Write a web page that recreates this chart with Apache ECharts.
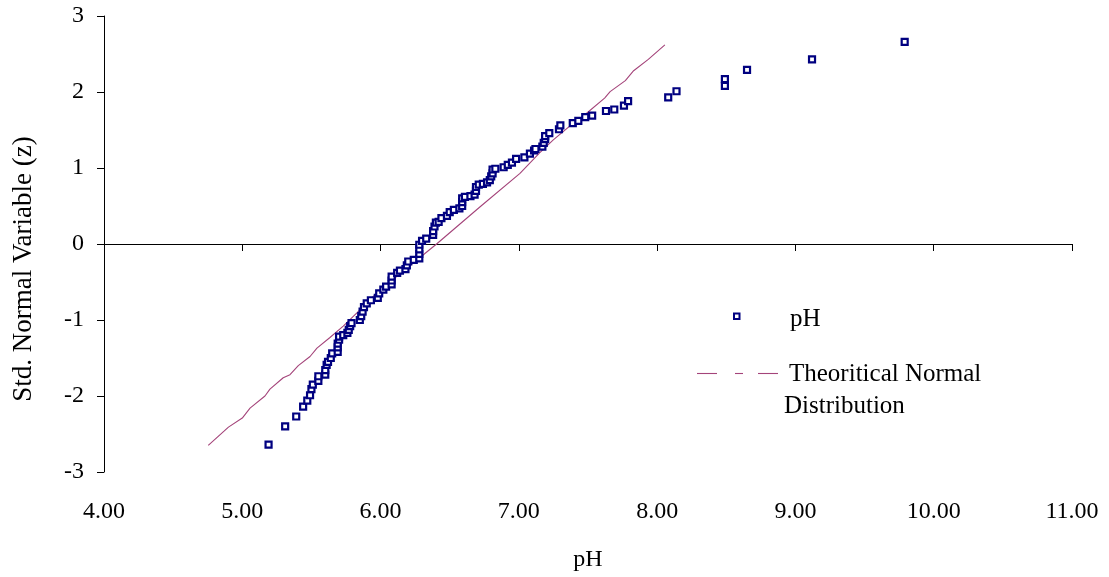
<!DOCTYPE html>
<html>
<head>
<meta charset="utf-8">
<title>pH normal probability plot</title>
<script src="https://cdn.jsdelivr.net/npm/echarts@6/dist/echarts.min.js"></script>
<style>
  html, body { margin: 0; padding: 0; background: #ffffff; }
  #chart { width: 1109px; height: 577px; }
</style>
</head>
<body>
<div id="chart"></div>
<script>
// Observed pH samples (sorted) and their standard normal scores
const phValues = [
  5.19, 5.31, 5.39, 5.44, 5.47, 5.49, 5.50, 5.51, 5.55, 5.55,
  5.60, 5.60, 5.61, 5.62, 5.64, 5.65, 5.69, 5.69, 5.69, 5.70,
  5.70, 5.73, 5.76, 5.77, 5.78, 5.79, 5.85, 5.86, 5.87, 5.88,
  5.90, 5.93, 5.98, 5.99, 6.02, 6.04, 6.08, 6.08, 6.08, 6.12,
  6.14, 6.18, 6.19, 6.20, 6.24, 6.28, 6.28, 6.28, 6.28, 6.30,
  6.33, 6.38, 6.38, 6.39, 6.40, 6.42, 6.44, 6.48, 6.50, 6.53,
  6.57, 6.59, 6.59, 6.59, 6.61, 6.65, 6.68, 6.69, 6.69, 6.71,
  6.74, 6.77, 6.79, 6.80, 6.81, 6.81, 6.83, 6.89, 6.92, 6.95,
  6.98, 7.04, 7.08, 7.11, 7.12, 7.17, 7.18, 7.19, 7.19, 7.22,
  7.29, 7.30, 7.39, 7.43, 7.48, 7.53, 7.63, 7.69, 7.76, 7.79,
  8.08, 8.14, 8.49, 8.49, 8.65, 9.12, 9.79
];
const zScores = [
  -2.64, -2.40, -2.27, -2.14, -2.06, -1.99, -1.91, -1.85, -1.80, -1.74,
  -1.72, -1.66, -1.59, -1.55, -1.50, -1.44, -1.42, -1.36, -1.31, -1.26,
  -1.22, -1.20, -1.17, -1.13, -1.08, -1.04, -1.00, -0.95, -0.89, -0.83,
  -0.78, -0.74, -0.71, -0.65, -0.60, -0.56, -0.53, -0.48, -0.43, -0.38,
  -0.35, -0.33, -0.28, -0.23, -0.21, -0.19, -0.13, -0.07, -0.01, 0.04,
  0.07, 0.12, 0.17, 0.23, 0.28, 0.29, 0.34, 0.37, 0.42, 0.45,
  0.47, 0.50, 0.55, 0.60, 0.62, 0.63, 0.65, 0.70, 0.75, 0.78,
  0.79, 0.81, 0.84, 0.89, 0.93, 0.98, 0.99, 1.01, 1.04, 1.07,
  1.12, 1.14, 1.19, 1.23, 1.25, 1.28, 1.33, 1.38, 1.42, 1.46,
  1.51, 1.56, 1.59, 1.62, 1.67, 1.69, 1.75, 1.77, 1.82, 1.88,
  1.93, 2.01, 2.08, 2.17, 2.29, 2.43, 2.66
];

// Theoretical normal distribution curve
const theoryPh = [
  4.754, 4.87, 4.90, 5.00, 5.056, 5.164, 5.20, 5.296, 5.345, 5.405,
  5.49, 5.54, 5.634, 5.73, 5.827, 5.947, 6.116, 6.236, 6.405, 6.72,
  7.008, 7.15, 7.249, 7.37, 7.49, 7.62, 7.66, 7.77, 7.83, 7.936, 8.056
];
const theoryZ = [
  -2.65, -2.46, -2.41, -2.29, -2.16, -2.00, -1.91, -1.76, -1.72, -1.60,
  -1.48, -1.37, -1.23, -1.08, -0.91, -0.69, -0.43, -0.25, 0.00, 0.49,
  0.93, 1.20, 1.37, 1.555, 1.72, 1.92, 2.005, 2.15, 2.28, 2.43, 2.62
];

const xTicks = { min: 4, max: 11, step: 1 };
const yTicks = { min: -3, max: 3, step: 1 };

const FONT = 'Liberation Serif';
const NAVY = '#000080';
const PLUM = '#A4447A';

const scatterData = phValues.map((v, i) => [v, zScores[i]]);
const lineData = theoryPh.map((v, i) => [v, theoryZ[i]]);

const chart = echarts.init(document.getElementById('chart'), null, { renderer: 'canvas' });

chart.setOption({
  animation: false,
  backgroundColor: '#ffffff',
  grid: { left: 104, right: 37, top: 16, bottom: 104.5, containLabel: false },
  xAxis: [
    {
      // tick labels and title along the bottom edge
      type: 'value',
      min: xTicks.min, max: xTicks.max, interval: xTicks.step,
      position: 'bottom',
      axisLine: { show: false, onZero: false },
      axisTick: { show: false },
      splitLine: { show: false },
      axisLabel: {
        margin: 28,
        fontFamily: FONT, fontSize: 24, color: '#000',
        formatter: v => v.toFixed(2)
      },
      name: 'pH',
      nameLocation: 'middle',
      nameGap: 76,
      nameTextStyle: { fontFamily: FONT, fontSize: 24, color: '#000' }
    },
    {
      // axis line crossing at z = 0, with its ticks
      type: 'value',
      min: xTicks.min, max: xTicks.max, interval: xTicks.step,
      position: 'bottom',
      axisLine: { show: true, onZero: true, lineStyle: { color: '#000', width: 1 } },
      axisTick: { show: true, inside: false, length: 7, lineStyle: { color: '#000' } },
      axisLabel: { show: false },
      splitLine: { show: false }
    }
  ],
  yAxis: {
    type: 'value',
    min: yTicks.min, max: yTicks.max, interval: yTicks.step,
    axisLine: { show: true, onZero: false, lineStyle: { color: '#000', width: 1 } },
    axisTick: { show: true, inside: false, length: 7, lineStyle: { color: '#000' } },
    splitLine: { show: false },
    axisLabel: { margin: 20, fontFamily: FONT, fontSize: 24, color: '#000' },
    name: 'Std. Normal Variable (z)',
    nameLocation: 'middle',
    nameRotate: 90,
    nameGap: 67,
    nameTextStyle: { fontFamily: FONT, fontSize: 27, color: '#000', padding: [0, 50, 0, 0] }
  },
  series: [
    {
      name: 'Theoritical Normal Distribution',
      type: 'line',
      xAxisIndex: 0,
      data: lineData,
      showSymbol: false,
      symbol: 'none',
      lineStyle: { color: PLUM, width: 1.1 },
      z: 2
    },
    {
      name: 'pH',
      type: 'scatter',
      xAxisIndex: 0,
      data: scatterData,
      symbol: 'rect',
      symbolSize: 6,
      itemStyle: { color: '#ffffff', borderColor: NAVY, borderWidth: 2.2, opacity: 1 },
      z: 3
    }
  ],
  graphic: [
    // legend: observed pH marker
    {
      type: 'rect',
      shape: { x: 734, y: 313.5, width: 5.5, height: 5.5 },
      style: { fill: '#ffffff', stroke: NAVY, lineWidth: 2 }
    },
    {
      type: 'text', x: 790, y: 319,
      style: { text: 'pH', font: '25px "' + FONT + '"', fill: '#000', textVerticalAlign: 'middle' }
    },
    // legend: theoretical line sample (long - short - long)
    { type: 'line', shape: { x1: 697, y1: 373.5, x2: 717, y2: 373.5 }, style: { stroke: PLUM, lineWidth: 1.1 } },
    { type: 'line', shape: { x1: 735, y1: 373.5, x2: 743, y2: 373.5 }, style: { stroke: PLUM, lineWidth: 1.1 } },
    { type: 'line', shape: { x1: 758, y1: 373.5, x2: 778, y2: 373.5 }, style: { stroke: PLUM, lineWidth: 1.1 } },
    {
      type: 'text', x: 789, y: 374,
      style: { text: 'Theoritical Normal', font: '25px "' + FONT + '"', fill: '#000', textVerticalAlign: 'middle' }
    },
    {
      type: 'text', x: 784, y: 406,
      style: { text: 'Distribution', font: '25px "' + FONT + '"', fill: '#000', textVerticalAlign: 'middle' }
    }
  ]
});
</script>
</body>
</html>
